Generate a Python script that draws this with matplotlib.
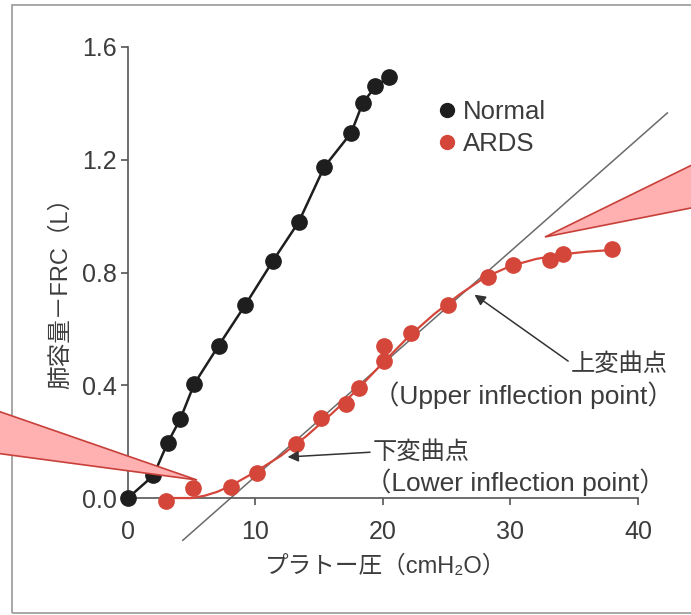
import matplotlib
matplotlib.use("Agg")
import matplotlib.pyplot as plt
from matplotlib.lines import Line2D
from matplotlib.patches import Polygon, Rectangle

plt.rcParams['font.family'] = ['Liberation Sans', 'Noto Sans CJK JP']

# -----------------------------------------------------------------------------
# Data
# -----------------------------------------------------------------------------
normal_x = [0, 2.0, 3.1, 4.1, 5.2, 7.1, 9.2, 11.35, 13.4, 15.4, 17.5, 18.4, 19.4, 20.5]
normal_y = [0, 0.08, 0.195, 0.28, 0.405, 0.54, 0.685, 0.84, 0.98, 1.175, 1.295, 1.40, 1.46, 1.495]

ards_x = [3.0, 5.1, 8.1, 10.1, 13.2, 15.1, 17.1, 18.1, 20.1, 20.1, 22.2, 25.1, 28.2, 30.2, 33.1, 34.1, 38.0]
ards_y = [-0.01, 0.035, 0.04, 0.09, 0.19, 0.285, 0.335, 0.39, 0.485, 0.54, 0.585, 0.685, 0.785, 0.825, 0.845, 0.865, 0.883]

# smooth curve through the ARDS points
ards_curve_x = [3, 4, 5, 6, 7, 8, 10, 12, 14, 16, 18, 20, 22, 24, 26, 28, 30, 32, 34, 36, 38]
ards_curve_y = [0.0, 0.0, 0.0, 0.008, 0.022, 0.042, 0.093, 0.15, 0.22, 0.3, 0.385, 0.48, 0.572, 0.652, 0.722, 0.783, 0.823, 0.848, 0.864, 0.874, 0.88]

# straight tangent line
tangent_x = [4.3, 42.3]
tangent_y = [-0.15, 1.366]

x_ticks = [0, 10, 20, 30, 40]
y_ticks = [0.0, 0.4, 0.8, 1.2, 1.6]

upper_point = (27.0, 0.727)
upper_tail = (34.7, 0.48)
lower_point = (12.3, 0.145)
lower_tail = (19.2, 0.163)

BLACK = '#1e1e1e'
RED = '#d4463a'
TEXT = '#3c3c3c'
AXIS = '#555555'

fig = plt.figure(figsize=(6.91, 6.15), dpi=100)
ax = fig.add_axes([0.1852, 0.1902, 0.7381, 0.7334])

# scanned page frame
fig.patches.append(Rectangle((0.0174, 0.003), 1.2, 0.989, transform=fig.transFigure,
                             fill=False, edgecolor='#a0a0a0', lw=1.3, zorder=0))

ax.plot(tangent_x, tangent_y, color='#6a6a6a', lw=1.1, clip_on=False, zorder=2)
ax.plot(normal_x, normal_y, color=BLACK, lw=1.8, clip_on=False, zorder=3)
ax.plot(normal_x, normal_y, 'o', color=BLACK, ms=11, clip_on=False, zorder=4)
ax.plot(ards_curve_x, ards_curve_y, color=RED, lw=1.6, clip_on=False, zorder=3)
ax.plot(ards_x, ards_y, 'o', color=RED, ms=11, clip_on=False, zorder=4)

ax.set_xlim(0, 40)
ax.set_ylim(0, 1.6)
ax.set_xticks(x_ticks)
ax.set_yticks(y_ticks)
ax.set_yticklabels([f"{v:.1f}" for v in y_ticks])
for s in ('top', 'right'):
    ax.spines[s].set_visible(False)
for s in ('left', 'bottom'):
    ax.spines[s].set_color(AXIS)
    ax.spines[s].set_linewidth(1.2)
ax.tick_params(axis='both', colors=AXIS, labelcolor=TEXT, labelsize=18, length=5, width=1.2)
ax.tick_params(axis='x', pad=11)
ax.tick_params(axis='y', pad=3)

ax.set_xlabel("プラトー圧（cmH₂O）", fontsize=17, color=TEXT)
ax.xaxis.set_label_coords(0.506, -0.127)
ax.set_ylabel("肺容量－FRC（L）", fontsize=17, color=TEXT)
ax.yaxis.set_label_coords(-0.11, 0.466)

handles = [Line2D([], [], marker='o', ls='none', color=BLACK, ms=10),
           Line2D([], [], marker='o', ls='none', color=RED, ms=10)]
ax.legend(handles, ['Normal', 'ARDS'], loc='upper left', bbox_to_anchor=(0.601, 0.8825),
          frameon=False, fontsize=18.5, handlelength=1, handletextpad=0.1,
          labelspacing=0.3, borderpad=0, borderaxespad=0, labelcolor=TEXT)

# annotations
arrow = dict(arrowstyle='-|>', color='#333333', lw=1.1, mutation_scale=16)
ax.annotate('', xy=upper_point, xytext=upper_tail, arrowprops=arrow, zorder=5)
ax.annotate('', xy=lower_point, xytext=lower_tail, arrowprops=arrow, zorder=5)
ax.text(42.3, 0.472, "上変曲点", ha='right', va='center', fontsize=17.5, color=TEXT, clip_on=False)
ax.text(42.8, 0.365, "（Upper inflection point）", ha='right', va='center', fontsize=19,
        color=TEXT, clip_on=False)
ax.text(19.2, 0.16, "下変曲点", ha='left', va='center', fontsize=17.5, color=TEXT, clip_on=False)
ax.text(18.6, 0.057, "（Lower inflection point）", ha='left', va='center', fontsize=19,
        color=TEXT, clip_on=False)

# pink speech-bubble pointers (pixel positions from top-left)
W, H = 691, 615
def bubble(pts):
    pts = [(x / W, 1 - y / H) for x, y in pts]
    fig.patches.append(Polygon(pts, closed=True, transform=fig.transFigure,
                               facecolor='#ffb0b0', edgecolor='#c8403a', lw=1.2, zorder=10))

bubble([(-5, 410), (197, 480), (-5, 453)])
bubble([(696, 163), (545, 237), (696, 207)])

fig.savefig("out.png", dpi=100)
